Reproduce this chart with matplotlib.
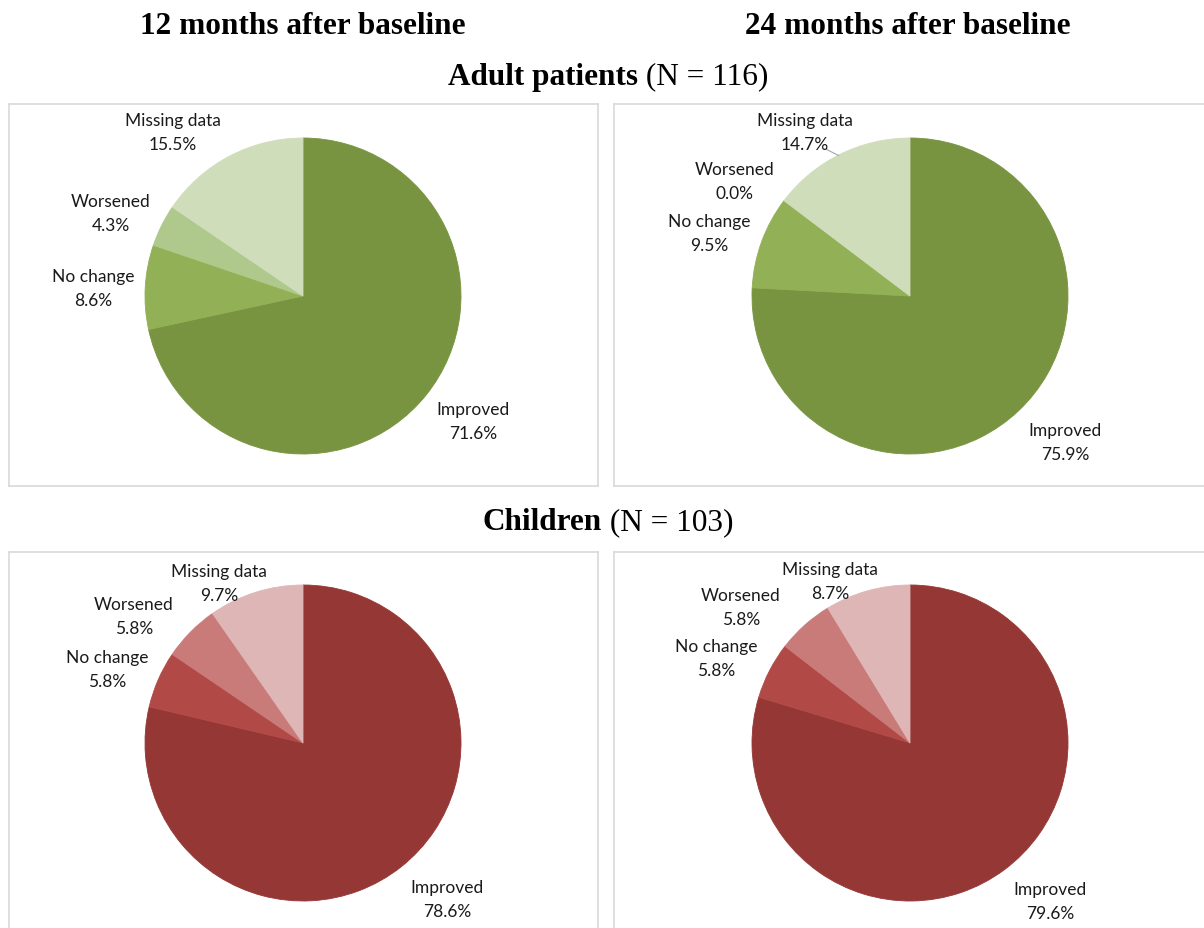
import matplotlib.pyplot as plt
import numpy as np

W, H = 1204, 929

categories = ['Improved', 'No change', 'Worsened', 'Missing data']
adult_12 = [71.6, 8.6, 4.3, 15.5]
adult_24 = [75.9, 9.5, 0.0, 14.7]
children_12 = [78.6, 5.8, 5.8, 9.7]
children_24 = [79.6, 5.8, 5.8, 8.7]

green = ['#789440', '#92B055', '#AFC88B', '#D0DDBB']
red = ['#953735', '#B14A47', '#C97B7A', '#DFB6B6']

# panel boxes in pixels (left, top, right, bottom), pie centre, label centres
panels = [
    dict(values=adult_12, colors=green, box=(9, 105, 598, 487), centre=(303, 297),
         labels=[(473, 422), (93, 289), (111, 214), (173, 133)]),
    dict(values=adult_24, colors=green, box=(614, 105, 1212, 487), centre=(910, 297),
         labels=[(1065, 443), (709, 234), (735, 182), (805, 133)], leader=3),
    dict(values=children_12, colors=red, box=(9, 553, 598, 940), centre=(303, 744),
         labels=[(447, 900), (107, 670), (134, 617), (219, 584)]),
    dict(values=children_24, colors=red, box=(614, 553, 1212, 940), centre=(910, 744),
         labels=[(1050, 902), (716, 659), (741, 608), (830, 582)]),
]
radius = 158

fig = plt.figure(figsize=(W / 100, H / 100), dpi=100)

for p in panels:
    x0, y0, x1, y1 = p['box']
    ax = fig.add_axes([x0 / W, 1 - y1 / H, (x1 - x0) / W, (y1 - y0) / H])
    cx, cy = p['centre']
    wedges, _ = ax.pie(p['values'], colors=p['colors'], startangle=90, counterclock=False,
                       center=(cx, H - cy), radius=radius, wedgeprops=dict(linewidth=0.6),
                       frame=True)
    for w in wedges:
        w.set_edgecolor(w.get_facecolor())
    ax.set_aspect('auto')
    ax.set_xlim(x0, x1)
    ax.set_ylim(H - y1, H - y0)
    ax.set_xticks([])
    ax.set_yticks([])
    for s in ax.spines.values():
        s.set_color('#D9D9D9')
        s.set_linewidth(1.2)
    for name, val, (lx, ly) in zip(categories, p['values'], p['labels']):
        ax.text(lx, H - ly, f'{name}\n{val:.1f}%', ha='center', va='center',
                fontsize=12.5, family='Lato', color='#1a1a1a', linespacing=1.55)
    if 'leader' in p:
        w = wedges[p['leader']]
        mid = np.deg2rad((w.theta1 + w.theta2) / 2)
        ex, ey = cx + radius * np.cos(mid), H - cy + radius * np.sin(mid)
        ax.plot([ex - 13, ex - 1], [ey + 5, ey - 1], color='#A6A6A6', lw=0.8)

title_kw = dict(family='Liberation Serif', fontsize=22.5, fontweight='bold', color='black',
                ha='center', va='center')
fig.text(303 / W, 1 - 26 / H, '12 months after baseline', **title_kw)
fig.text(908 / W, 1 - 26 / H, '24 months after baseline', **title_kw)

renderer = fig.canvas.get_renderer()


def group_title(bold, plain, py):
    t1 = fig.text(0, 1 - py / H, bold, family='Liberation Serif', fontsize=22.5,
                  fontweight='bold', ha='left', va='center')
    t2 = fig.text(0, 1 - py / H, plain, family='Liberation Serif', fontsize=22.5,
                  ha='left', va='center')
    w1 = t1.get_window_extent(renderer).width
    w2 = t2.get_window_extent(renderer).width
    left = 608 - (w1 + w2) / 2
    t1.set_x(left / W)
    t2.set_x((left + w1) / W)


group_title('Adult patients', ' (N = 116)', 77)
group_title('Children', ' (N = 103)', 523)

fig.savefig('out.png', dpi=100, facecolor='white')
